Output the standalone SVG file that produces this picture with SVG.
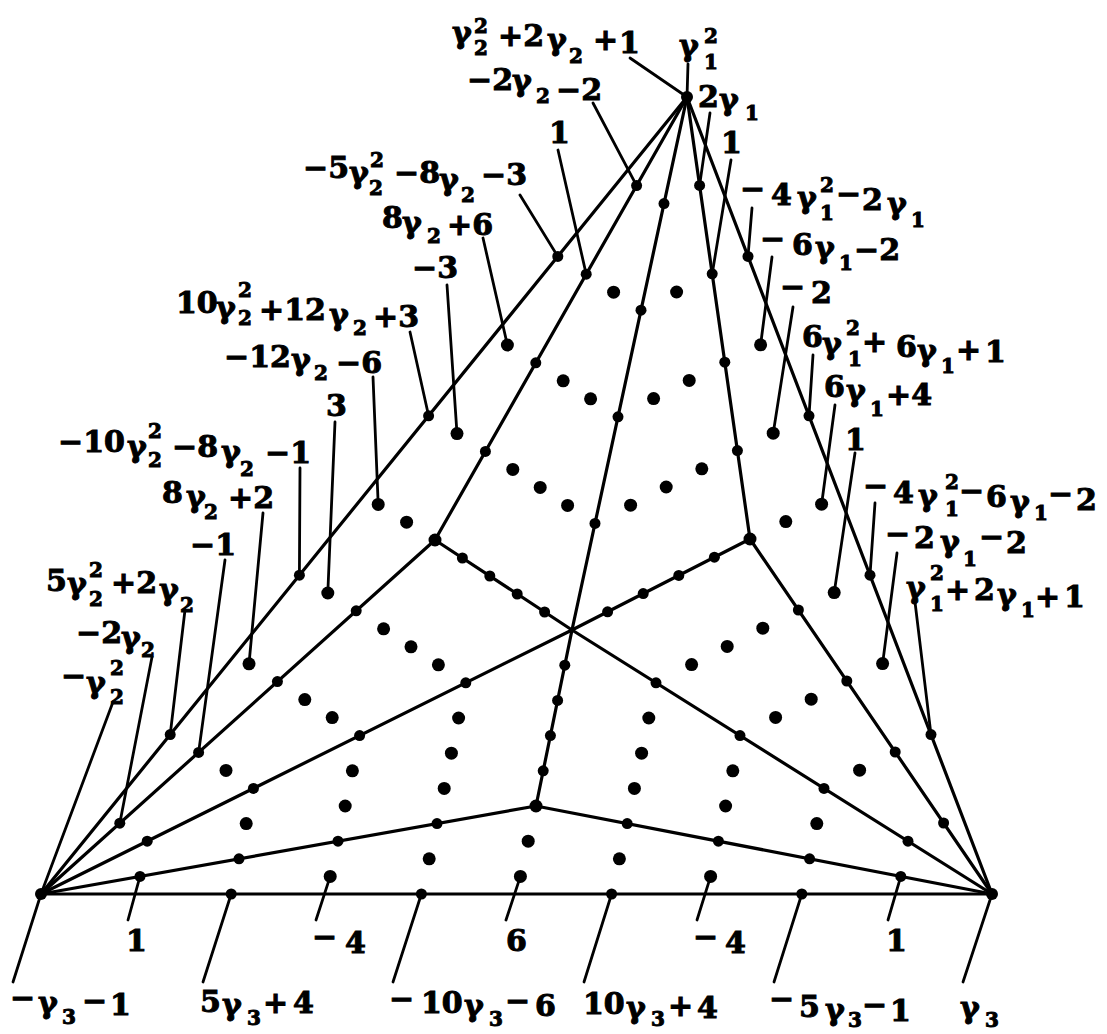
<svg xmlns="http://www.w3.org/2000/svg" width="1107" height="1034" viewBox="0 0 1107 1034">
<style>
.ln{stroke:#000;stroke-width:3.2;fill:none;stroke-linecap:round}
.pt{stroke:#000;stroke-width:2.8;fill:none;stroke-linecap:round}
.e circle{fill:#000}
.i circle{fill:#000}
text{font-family:"DejaVu Serif","Liberation Serif",serif;font-weight:bold;font-size:30px;fill:#000;stroke:#000;stroke-width:1}
.s{font-size:20px}
</style>
<rect width="1107" height="1034" fill="#fff"/>
<g id="connectors">
<line class="ln" x1="687" y1="97" x2="41" y2="894"/>
<line class="ln" x1="687" y1="97" x2="435" y2="540"/>
<line class="ln" x1="687" y1="97" x2="572" y2="630"/>
<line class="ln" x1="687" y1="97" x2="750" y2="539"/>
<line class="ln" x1="687" y1="97" x2="992" y2="894"/>
<line class="ln" x1="41" y1="894" x2="435" y2="540"/>
<line class="ln" x1="41" y1="894" x2="572" y2="630"/>
<line class="ln" x1="41" y1="894" x2="536" y2="806"/>
<line class="ln" x1="41" y1="894" x2="992" y2="894"/>
<line class="ln" x1="992" y1="894" x2="750" y2="539"/>
<line class="ln" x1="992" y1="894" x2="572" y2="630"/>
<line class="ln" x1="992" y1="894" x2="536" y2="806"/>
<line class="ln" x1="435" y1="540" x2="572" y2="630"/>
<line class="ln" x1="750" y1="539" x2="572" y2="630"/>
<line class="ln" x1="536" y1="806" x2="572" y2="630"/>
</g>
<g id="vertices" class="e">
<g id="vT"><circle cx="687" cy="97" r="6"/></g>
<g id="vL"><circle cx="41" cy="894" r="6"/></g>
<g id="vR"><circle cx="992" cy="894" r="6"/></g>
<g id="vA"><circle cx="435" cy="540" r="6.5"/></g>
<g id="vB"><circle cx="750" cy="539" r="6.5"/></g>
<g id="vD"><circle cx="536" cy="806" r="6.5"/></g>
</g>
<g id="edge-dots" class="e">
<circle cx="557.8" cy="256.4" r="5.5"/><circle cx="428.6" cy="415.8" r="5.5"/><circle cx="299.4" cy="575.2" r="5.5"/><circle cx="170.2" cy="734.6" r="5.5"/>
<circle cx="636.6" cy="185.6" r="5.5"/><circle cx="586.2" cy="274.2" r="5.5"/><circle cx="535.8" cy="362.8" r="5.5"/><circle cx="485.4" cy="451.4" r="5.5"/>
<circle cx="664" cy="203.6" r="5.5"/><circle cx="641" cy="310.2" r="5.5"/><circle cx="618" cy="416.8" r="5.5"/><circle cx="595" cy="523.4" r="5.5"/>
<circle cx="699.6" cy="185.4" r="5.5"/><circle cx="712.2" cy="273.8" r="5.5"/><circle cx="724.8" cy="362.2" r="5.5"/><circle cx="737.4" cy="450.6" r="5.5"/>
<circle cx="748" cy="256.4" r="5.5"/><circle cx="809" cy="415.8" r="5.5"/><circle cx="870" cy="575.2" r="5.5"/><circle cx="931" cy="734.6" r="5.5"/>
<circle cx="119.8" cy="823.2" r="5.5"/><circle cx="198.6" cy="752.4" r="5.5"/><circle cx="277.4" cy="681.6" r="5.5"/><circle cx="356.2" cy="610.8" r="5.5"/>
<circle cx="147.2" cy="841.2" r="5.5"/><circle cx="253.4" cy="788.4" r="5.5"/><circle cx="359.6" cy="735.6" r="5.5"/><circle cx="465.8" cy="682.8" r="5.5"/>
<circle cx="140" cy="876.4" r="5.5"/><circle cx="239" cy="858.8" r="5.5"/><circle cx="338" cy="841.2" r="5.5"/><circle cx="437" cy="823.6" r="5.5"/>
<circle cx="231.2" cy="894" r="5.5"/><circle cx="421.4" cy="894" r="5.5"/><circle cx="611.6" cy="894" r="5.5"/><circle cx="801.8" cy="894" r="5.5"/>
<circle cx="908" cy="841.2" r="5.5"/><circle cx="824" cy="788.4" r="5.5"/><circle cx="740" cy="735.6" r="5.5"/><circle cx="656" cy="682.8" r="5.5"/>
<circle cx="943.6" cy="823" r="5.5"/><circle cx="895.2" cy="752" r="5.5"/><circle cx="846.8" cy="681" r="5.5"/><circle cx="798.4" cy="610" r="5.5"/>
<circle cx="900.8" cy="876.4" r="5.5"/><circle cx="809.6" cy="858.8" r="5.5"/><circle cx="718.4" cy="841.2" r="5.5"/><circle cx="627.2" cy="823.6" r="5.5"/>
<circle cx="462.4" cy="558" r="5.5"/><circle cx="489.8" cy="576" r="5.5"/><circle cx="517.2" cy="594" r="5.5"/><circle cx="544.6" cy="612" r="5.5"/>
<circle cx="714.4" cy="557.2" r="5.5"/><circle cx="678.8" cy="575.4" r="5.5"/><circle cx="643.2" cy="593.6" r="5.5"/><circle cx="607.6" cy="611.8" r="5.5"/>
<circle cx="543.2" cy="770.8" r="5.5"/><circle cx="550.4" cy="735.6" r="5.5"/><circle cx="557.6" cy="700.4" r="5.5"/><circle cx="564.8" cy="665.2" r="5.5"/>
</g>
<g id="inner-dots" class="i">
<circle cx="507.4" cy="345" r="6.5"/><circle cx="378.2" cy="504.4" r="6.5"/><circle cx="457" cy="433.6" r="6.5"/><circle cx="249" cy="663.8" r="6.5"/><circle cx="327.8" cy="593" r="6.5"/><circle cx="406.6" cy="522.2" r="6.5"/>
<circle cx="613.6" cy="292.2" r="6.5"/><circle cx="563.2" cy="380.8" r="6.5"/><circle cx="590.6" cy="398.8" r="6.5"/><circle cx="512.8" cy="469.4" r="6.5"/><circle cx="540.2" cy="487.4" r="6.5"/><circle cx="567.6" cy="505.4" r="6.5"/>
<circle cx="676.6" cy="292" r="6.5"/><circle cx="653.6" cy="398.6" r="6.5"/><circle cx="689.2" cy="380.4" r="6.5"/><circle cx="630.6" cy="505.2" r="6.5"/><circle cx="666.2" cy="487" r="6.5"/><circle cx="701.8" cy="468.8" r="6.5"/>
<circle cx="760.6" cy="344.8" r="6.5"/><circle cx="773.2" cy="433.2" r="6.5"/><circle cx="821.6" cy="504.2" r="6.5"/><circle cx="785.8" cy="521.6" r="6.5"/><circle cx="834.2" cy="592.6" r="6.5"/><circle cx="882.6" cy="663.6" r="6.5"/>
<circle cx="859.6" cy="770.2" r="6.5"/><circle cx="811.2" cy="699.2" r="6.5"/><circle cx="775.6" cy="717.4" r="6.5"/><circle cx="762.8" cy="628.2" r="6.5"/><circle cx="727.2" cy="646.4" r="6.5"/><circle cx="691.6" cy="664.6" r="6.5"/>
<circle cx="226" cy="770.4" r="6.5"/><circle cx="304.8" cy="699.6" r="6.5"/><circle cx="332.2" cy="717.6" r="6.5"/><circle cx="383.6" cy="628.8" r="6.5"/><circle cx="411" cy="646.8" r="6.5"/><circle cx="438.4" cy="664.8" r="6.5"/>
<circle cx="246.2" cy="823.6" r="6.5"/><circle cx="352.4" cy="770.8" r="6.5"/><circle cx="345.2" cy="806" r="6.5"/><circle cx="458.6" cy="718" r="6.5"/><circle cx="451.4" cy="753.2" r="6.5"/><circle cx="444.2" cy="788.4" r="6.5"/>
<circle cx="816.8" cy="823.6" r="6.5"/><circle cx="732.8" cy="770.8" r="6.5"/><circle cx="725.6" cy="806" r="6.5"/><circle cx="648.8" cy="718" r="6.5"/><circle cx="641.6" cy="753.2" r="6.5"/><circle cx="634.4" cy="788.4" r="6.5"/>
<circle cx="330.2" cy="876.4" r="6.5"/><circle cx="429.2" cy="858.8" r="6.5"/><circle cx="520.4" cy="876.4" r="6.5"/><circle cx="528.2" cy="841.2" r="6.5"/><circle cx="619.4" cy="858.8" r="6.5"/><circle cx="710.6" cy="876.4" r="6.5"/>
</g>
<g id="pointers">
<line class="pt" x1="630" y1="58" x2="687" y2="97"/>
<line class="pt" x1="593" y1="103" x2="636.6" y2="185.6"/>
<line class="pt" x1="558" y1="150" x2="586.2" y2="274.2"/>
<line class="pt" x1="520" y1="195" x2="557.8" y2="256.4"/>
<line class="pt" x1="483" y1="238" x2="507.4" y2="345"/>
<line class="pt" x1="447" y1="285" x2="457" y2="433.6"/>
<line class="pt" x1="410" y1="332" x2="428.6" y2="415.8"/>
<line class="pt" x1="373" y1="377" x2="378.2" y2="504.4"/>
<line class="pt" x1="335" y1="422" x2="327.8" y2="593"/>
<line class="pt" x1="300" y1="468" x2="299.4" y2="575.2"/>
<line class="pt" x1="263" y1="513" x2="249" y2="663.8"/>
<line class="pt" x1="225" y1="560" x2="198.6" y2="752.4"/>
<line class="pt" x1="185" y1="610" x2="170.2" y2="734.6"/>
<line class="pt" x1="152" y1="657" x2="119.8" y2="823.2"/>
<line class="pt" x1="113" y1="702" x2="41" y2="894"/>
<line class="pt" x1="688" y1="64" x2="687" y2="97"/>
<line class="pt" x1="710" y1="113" x2="699.6" y2="185.4"/>
<line class="pt" x1="731" y1="160" x2="712.2" y2="273.8"/>
<line class="pt" x1="752" y1="208" x2="748" y2="256.4"/>
<line class="pt" x1="772" y1="257" x2="760.6" y2="344.8"/>
<line class="pt" x1="793" y1="307" x2="773.2" y2="433.2"/>
<line class="pt" x1="813" y1="355" x2="809" y2="415.8"/>
<line class="pt" x1="835" y1="405" x2="821.6" y2="504.2"/>
<line class="pt" x1="855" y1="453" x2="834.2" y2="592.6"/>
<line class="pt" x1="875" y1="503" x2="870" y2="575.2"/>
<line class="pt" x1="897" y1="553" x2="882.6" y2="663.6"/>
<line class="pt" x1="915" y1="602" x2="931" y2="734.6"/>
<line class="pt" x1="13" y1="982" x2="41" y2="894"/>
<line class="pt" x1="128" y1="920" x2="140" y2="876.4"/>
<line class="pt" x1="203" y1="982" x2="231.2" y2="894"/>
<line class="pt" x1="316" y1="920" x2="330.2" y2="876.4"/>
<line class="pt" x1="393" y1="982" x2="421.4" y2="894"/>
<line class="pt" x1="506" y1="920" x2="520.4" y2="876.4"/>
<line class="pt" x1="584" y1="982" x2="611.6" y2="894"/>
<line class="pt" x1="697" y1="920" x2="710.6" y2="876.4"/>
<line class="pt" x1="774" y1="982" x2="801.8" y2="894"/>
<line class="pt" x1="888" y1="920" x2="900.8" y2="876.4"/>
<line class="pt" x1="963" y1="982" x2="992" y2="894"/>
</g>
<g id="labels-left">
<text><tspan x="452" y="43">γ</tspan><tspan class="s" x="474" y="33">2</tspan><tspan class="s" x="474" y="55">2</tspan><tspan x="498" y="46">+2</tspan><tspan x="547" y="50">γ</tspan><tspan class="s" x="569" y="63">2</tspan><tspan x="593" y="50">+</tspan><tspan x="619" y="53">1</tspan></text>
<text><tspan x="467" y="90">−2</tspan><tspan x="512" y="91">γ</tspan><tspan class="s" x="536" y="103">2</tspan><tspan x="556" y="100">−2</tspan></text>
<text x="549" y="143">1</text>
<text><tspan x="303" y="178">−5</tspan><tspan x="349" y="183">γ</tspan><tspan class="s" x="370" y="167">2</tspan><tspan class="s" x="369" y="195">2</tspan><tspan x="394" y="183">−8</tspan><tspan x="439" y="190">γ</tspan><tspan class="s" x="461" y="202">2</tspan><tspan x="481" y="185">−3</tspan></text>
<text><tspan x="382" y="228">8</tspan><tspan x="402" y="233">γ</tspan><tspan class="s" x="427" y="243">2</tspan><tspan x="447" y="235">+6</tspan></text>
<text x="412" y="278">−3</text>
<text><tspan x="176" y="313">10</tspan><tspan x="216" y="318">γ</tspan><tspan class="s" x="238" y="297">2</tspan><tspan class="s" x="238" y="325">2</tspan><tspan x="259" y="320">+12</tspan><tspan x="329" y="325">γ</tspan><tspan class="s" x="353" y="335">2</tspan><tspan x="373" y="327">+3</tspan></text>
<text><tspan x="224" y="367">−12</tspan><tspan x="291" y="370">γ</tspan><tspan class="s" x="314" y="380">2</tspan><tspan x="336" y="373">−6</tspan></text>
<text x="326" y="416">3</text>
<text><tspan x="58" y="452">−10</tspan><tspan x="127" y="457">γ</tspan><tspan class="s" x="148" y="438">2</tspan><tspan class="s" x="148" y="467">2</tspan><tspan x="172" y="457">−8</tspan><tspan x="221" y="462">γ</tspan><tspan class="s" x="240" y="476">2</tspan><tspan x="265" y="463">−1</tspan></text>
<text><tspan x="162" y="503">8</tspan><tspan x="186" y="507">γ</tspan><tspan class="s" x="204" y="519">2</tspan><tspan x="228" y="508">+2</tspan></text>
<text x="190" y="555">−1</text>
<text><tspan x="46" y="591">5</tspan><tspan x="67" y="594">γ</tspan><tspan class="s" x="89" y="577">2</tspan><tspan class="s" x="89" y="606">2</tspan><tspan x="111" y="593">+2</tspan><tspan x="159" y="600">γ</tspan><tspan class="s" x="180" y="612">2</tspan></text>
<text><tspan x="76" y="643">−2</tspan><tspan x="121" y="648">γ</tspan><tspan class="s" x="141" y="657">2</tspan></text>
<text><tspan x="61" y="686">−</tspan><tspan x="86" y="693">γ</tspan><tspan class="s" x="110" y="675">2</tspan><tspan class="s" x="110" y="704">2</tspan></text>
</g>
<g id="labels-right">
<text><tspan x="679" y="56">γ</tspan><tspan class="s" x="704" y="43">2</tspan><tspan class="s" x="704" y="69">1</tspan></text>
<text><tspan x="698" y="107">2</tspan><tspan x="719" y="110">γ</tspan><tspan class="s" x="745" y="120">1</tspan></text>
<text x="721" y="153">1</text>
<text><tspan x="740" y="199">−</tspan><tspan x="771" y="205">4</tspan><tspan x="797" y="208">γ</tspan><tspan class="s" x="820" y="192">2</tspan><tspan class="s" x="820" y="220">1</tspan><tspan x="836" y="204">−</tspan><tspan x="862" y="210">2</tspan><tspan x="887" y="214">γ</tspan><tspan class="s" x="911" y="227">1</tspan></text>
<text><tspan x="760" y="249">−</tspan><tspan x="792" y="255">6</tspan><tspan x="815" y="258">γ</tspan><tspan class="s" x="839" y="270">1</tspan><tspan x="854" y="260">−2</tspan></text>
<text><tspan x="780" y="297">−</tspan><tspan x="811" y="303">2</tspan></text>
<text><tspan x="802" y="347">6</tspan><tspan x="822" y="354">γ</tspan><tspan class="s" x="846" y="335">2</tspan><tspan class="s" x="848" y="366">1</tspan><tspan x="862" y="352">+</tspan><tspan x="896" y="357">6</tspan><tspan x="917" y="361">γ</tspan><tspan class="s" x="941" y="373">1</tspan><tspan x="956" y="360">+</tspan><tspan x="985" y="362">1</tspan></text>
<text><tspan x="824" y="397">6</tspan><tspan x="846" y="401">γ</tspan><tspan class="s" x="870" y="416">1</tspan><tspan x="886" y="405">+4</tspan></text>
<text x="845" y="450">1</text>
<text><tspan x="863" y="496">−</tspan><tspan x="893" y="503">4</tspan><tspan x="918" y="506">γ</tspan><tspan class="s" x="945" y="489">2</tspan><tspan class="s" x="945" y="516">1</tspan><tspan x="959" y="501">−</tspan><tspan x="986" y="507">6</tspan><tspan x="1010" y="512">γ</tspan><tspan class="s" x="1034" y="520">1</tspan><tspan x="1048" y="504">−</tspan><tspan x="1076" y="510">2</tspan></text>
<text><tspan x="885" y="544">−</tspan><tspan x="914" y="548">2</tspan><tspan x="940" y="552">γ</tspan><tspan class="s" x="963" y="566">1</tspan><tspan x="979" y="547">−</tspan><tspan x="1006" y="553">2</tspan></text>
<text><tspan x="906" y="598">γ</tspan><tspan class="s" x="930" y="580">2</tspan><tspan class="s" x="930" y="611">1</tspan><tspan x="945" y="600">+</tspan><tspan x="974" y="600">2</tspan><tspan x="997" y="605">γ</tspan><tspan class="s" x="1021" y="617">1</tspan><tspan x="1035" y="607">+</tspan><tspan x="1064" y="607">1</tspan></text>
</g>
<g id="labels-bottom">
<text><tspan x="10" y="1008">−</tspan><tspan x="38" y="1013">γ</tspan><tspan class="s" x="62" y="1024">3</tspan><tspan x="82" y="1011">−</tspan><tspan x="110" y="1015">1</tspan></text>
<text x="126" y="951">1</text>
<text><tspan x="200" y="1012">5</tspan><tspan x="222" y="1015">γ</tspan><tspan class="s" x="247" y="1025">3</tspan><tspan x="263" y="1013">+</tspan><tspan x="293" y="1013">4</tspan></text>
<text><tspan x="312" y="947">−</tspan><tspan x="345" y="953">4</tspan></text>
<text><tspan x="389" y="1009">−</tspan><tspan x="421" y="1013">10</tspan><tspan x="464" y="1016">γ</tspan><tspan class="s" x="489" y="1026">3</tspan><tspan x="505" y="1011">−</tspan><tspan x="535" y="1016">6</tspan></text>
<text x="506" y="951">6</text>
<text><tspan x="583" y="1014">10</tspan><tspan x="626" y="1018">γ</tspan><tspan class="s" x="651" y="1026">3</tspan><tspan x="668" y="1016">+</tspan><tspan x="697" y="1018">4</tspan></text>
<text><tspan x="693" y="947">−</tspan><tspan x="725" y="953">4</tspan></text>
<text><tspan x="769" y="1009">−</tspan><tspan x="799" y="1017">5</tspan><tspan x="825" y="1020">γ</tspan><tspan class="s" x="848" y="1027">3</tspan><tspan x="862" y="1015">−</tspan><tspan x="890" y="1021">1</tspan></text>
<text x="886" y="951">1</text>
<text><tspan x="960" y="1018">γ</tspan><tspan class="s" x="985" y="1027">3</tspan></text>
</g>
</svg>
